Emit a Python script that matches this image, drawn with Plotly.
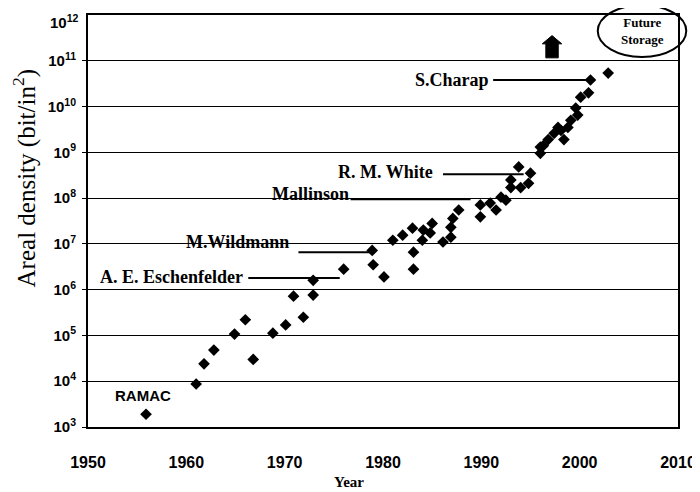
import numpy as np
import plotly.graph_objects as go

# areal density data points
years = [1955.9, 1961.0, 1961.8, 1962.8, 1964.9, 1966.0, 1966.8, 1968.8, 1970.1, 1971.9,
         1970.9, 1972.9, 1972.9, 1976.0, 1979.0, 1980.1, 1983.1, 1978.9, 1981.0, 1982.0,
         1983.0, 1983.1, 1984.0, 1984.1, 1985.0, 1984.8, 1986.1, 1986.9, 1987.1, 1987.7,
         1986.9, 1989.9, 1989.9, 1990.9, 1991.5, 1992.0, 1992.5, 1993.0, 1993.0, 1993.8,
         1994.0, 1995.0, 1994.8, 1996.0, 1996.0, 1996.3, 1996.8, 1997.4, 1997.8, 1998.1,
         1998.8, 1998.4, 1999.1, 1999.8, 1999.6, 2000.1, 2000.9, 2001.1, 2002.9]
density = [1.9e3, 8.7e3, 2.4e4, 4.8e4, 1.07e5, 2.2e5, 3.0e4, 1.12e5, 1.7e5, 2.5e5,
           7.2e5, 7.6e5, 1.6e6, 2.8e6, 3.5e6, 1.9e6, 2.8e6, 7.2e6, 1.2e7, 1.55e7,
           2.2e7, 6.6e6, 1.2e7, 2.0e7, 2.8e7, 1.74e7, 1.1e7, 2.3e7, 3.6e7, 5.5e7,
           1.4e7, 3.9e7, 7.1e7, 7.8e7, 5.5e7, 1.05e8, 9.0e7, 1.7e8, 2.5e8, 4.8e8,
           1.7e8, 3.5e8, 2.1e8, 9.5e8, 1.3e9, 1.4e9, 1.9e9, 2.6e9, 3.5e9, 3.0e9,
           3.5e9, 1.9e9, 5.0e9, 6.5e9, 9.3e9, 1.6e10, 2.0e10, 3.8e10, 5.4e10]

x_ticks = [1950, 1960, 1970, 1980, 1990, 2000, 2010]
y_ticks = [1e3, 1e4, 1e5, 1e6, 1e7, 1e8, 1e9, 1e10, 1e11, 1e12]
y_ticktext = ["10<sup>%d</sup>" % e for e in range(3, 13)]

names = ["A. E. Eschenfelder", "M.Wildmann", "Mallinson", "R. M. White", "S.Charap"]

fig = go.Figure()
fig.add_trace(go.Scatter(
    x=years, y=density, mode="markers",
    marker=dict(symbol="diamond", size=9, color="black"),
    showlegend=False, cliponaxis=False,
))

# label text end (year, density) and leader line (start, end, density)
label_pos = [
    (1966.0, 1.9e6, 1966.3, 1975.6, 1.8e6),
    (1970.6, 1.1e7, 1971.4, 1979.0, 6.6e6),
    (1976.7, 1.2e8, 1976.7, 1988.9, 9.5e7),
    (1985.3, 3.7e8, 1986.1, 1994.3, 3.3e8),
    (1991.0, 3.8e10, 1991.2, 2000.8, 3.8e10),
]
serif = "Liberation Serif"
tick_font = dict(family="Liberation Sans", size=15, color="black", weight="bold")
for name, (tx, ty, lx0, lx1, ly) in zip(names, label_pos):
    fig.add_annotation(x=tx, y=np.log10(ty), text="<b>%s</b>" % name, showarrow=False,
                       xanchor="right", yanchor="middle",
                       font=dict(family=serif, size=18, color="black"))
    fig.add_shape(type="line", x0=lx0, x1=lx1, y0=ly, y1=ly, xref="x", yref="y",
                  line=dict(color="black", width=2))

fig.add_annotation(x=1955.6, y=np.log10(5.0e3), text="<b>RAMAC</b>", showarrow=False,
                   xanchor="center",
                   font=dict(family="Liberation Sans", size=15, color="black"))

# Future Storage ellipse + up arrow (outside the plot area, paper coords)
fig.add_shape(type="circle", xref="paper", yref="paper", x0=0.864, x1=1.014, y0=0.898, y1=1.024,
              line=dict(color="black", width=2))
fig.add_annotation(x=0.939, y=0.962, xref="paper", yref="paper", showarrow=False,
                   xanchor="center", yanchor="middle",
                   text="<b>Future<br>Storage</b>", align="center",
                   font=dict(family=serif, size=13, color="black"))
fig.add_shape(type="path", xref="paper", yref="paper",
              path="M 0.776 0.896 L 0.797 0.896 L 0.797 0.930 L 0.803 0.930 L 0.7865 0.950 "
                   "L 0.770 0.930 L 0.776 0.930 Z",
              fillcolor="black", line=dict(color="black", width=1))

# top tick label sits a little below its line in the original (and would be clipped)
fig.add_annotation(x=0, y=0.985, xref="paper", yref="paper", showarrow=False,
                   xanchor="right", yanchor="middle", xshift=-7,
                   text=y_ticktext[-1], font=tick_font)

# axis titles sit off-centre in the original, so place them as annotations
fig.add_annotation(x=-0.108, y=0.604, xref="paper", yref="paper", showarrow=False,
                   xanchor="center", yanchor="middle", textangle=-90,
                   text="Areal density (bit/in<sup>2</sup>)",
                   font=dict(family=serif, size=25, color="black"))
fig.add_annotation(x=0.442, y=-0.133, xref="paper", yref="paper", showarrow=False,
                   xanchor="center", yanchor="middle", text="<b>Year</b>",
                   font=dict(family=serif, size=15, color="black"))

# page body adds an 8px offset, so the figure is a bit smaller than the window
fig.update_layout(
    width=692, height=484,
    margin=dict(l=80, r=22, t=7, b=65, autoexpand=False),
    plot_bgcolor="white", paper_bgcolor="white",
    xaxis=dict(
        range=[1950, 2010], tickvals=x_ticks, showgrid=False, zeroline=False,
        showline=True, linecolor="black", linewidth=2, mirror=True,
        ticks="", ticklabelstandoff=20, automargin=False, ticklabeloverflow="allow",
        tickfont=dict(family="Liberation Sans", size=16, color="black", weight="bold"),
    ),
    yaxis=dict(
        type="log", range=[3, 12], tickvals=y_ticks[:-1], ticktext=y_ticktext[:-1],
        showgrid=True, gridcolor="black", gridwidth=1.3, zeroline=False,
        showline=True, linecolor="black", linewidth=2, mirror=True,
        ticks="outside", ticklen=4, tickcolor="black", automargin=False,
        ticklabelstandoff=3, ticklabeloverflow="allow",
        tickfont=tick_font,
    ),
)

fig.write_html("out.html")
